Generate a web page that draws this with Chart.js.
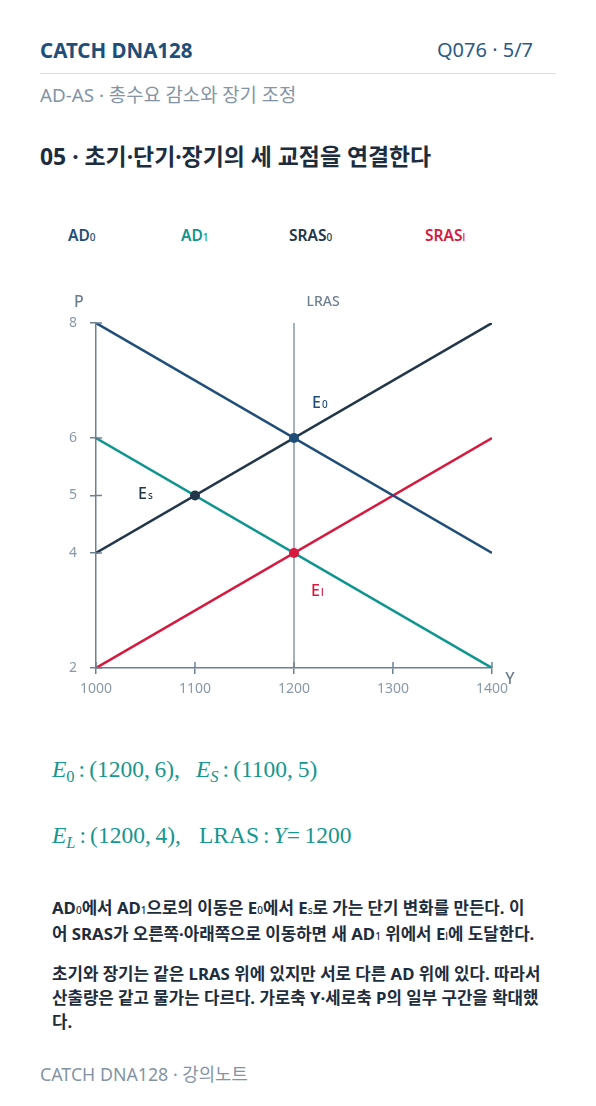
<!DOCTYPE html>
<html>
<head>
<meta charset="utf-8">
<script src="https://cdn.jsdelivr.net/npm/chart.js@4"></script>
<style>
  html,body{margin:0;padding:0;background:#fff;}
  body{width:596px;height:1106px;position:relative;overflow:hidden;font-family:"Noto Sans","Noto Sans CJK KR",sans-serif;}
  .abs{position:absolute;white-space:nowrap;line-height:1;}
  #brand{left:40px;top:40px;font-size:20.5px;font-weight:700;color:#1f4e79;}
  #page{left:437px;top:40px;font-size:20px;color:#2b5a85;}
  #rule{left:40px;top:73px;width:516px;height:1px;background:#d3dfea;}
  #sub{left:40px;top:86px;font-size:18.8px;color:#8494a5;}
  #title{left:40px;top:146px;font-size:22.9px;font-weight:700;color:#1e2d3d;}
  .leg{position:absolute;top:228px;font-size:15.5px;font-weight:600;white-space:nowrap;line-height:1;}
  .leg sub{font-size:10px;font-weight:500;vertical-align:0;}
  #chart{position:absolute;left:0;top:200px;}
  .math{position:absolute;left:52px;font-family:"Liberation Serif","DejaVu Serif",serif;font-size:23.5px;line-height:24px;color:#17968f;white-space:nowrap;}
  .math i{font-style:italic;}
  .math sub{font-size:16.5px;vertical-align:-5px;line-height:0;}
  .math .r{margin:0 4px 0 4px;}
  .math .q{display:inline-block;width:16px;}
  #para{position:absolute;left:52px;top:896px;font-size:16.8px;font-weight:700;color:#1e2d3d;line-height:24px;white-space:nowrap;}
  #para p{margin:0 0 14px 0;}
  #para sub{font-size:10px;font-weight:500;vertical-align:0;}
  #foot{left:40px;top:1066px;font-size:17.8px;color:#8494a5;}
</style>
</head>
<body>
<div id="brand" class="abs">CATCH DNA128</div>
<div id="page" class="abs">Q076 · 5/7</div>
<div id="rule" class="abs"></div>
<div id="sub" class="abs">AD-AS · 총수요 감소와 장기 조정</div>
<div id="title" class="abs">05 · 초기·단기·장기의 세 교점을 연결한다</div>

<div class="leg" style="left:68px;color:#1f4e79;">AD<sub>0</sub></div>
<div class="leg" style="left:181px;color:#0f958f;">AD<sub>1</sub></div>
<div class="leg" style="left:289px;color:#22364a;">SRAS<sub>0</sub></div>
<div class="leg" style="left:425px;color:#d7193f;">SRAS<sub>l</sub></div>

<canvas id="chart" width="596" height="530"></canvas>

<div class="math" style="top:757px;"><i>E</i><sub>0</sub><span class="r">:</span>(1200,&#8201;6),<span class="q"></span><i>E</i><sub><i>S</i></sub><span class="r">:</span>(1100,&#8201;5)</div>
<div class="math" style="top:823px;"><i>E</i><sub><i>L</i></sub><span class="r">:</span>(1200,&#8201;4),<span class="q" style="width:18px"></span>LRAS<span class="r">:</span><i>Y</i>=&#8201;1200</div>

<div id="para">
<p>AD<sub>0</sub>에서 AD<sub>1</sub>으로의 이동은 E<sub>0</sub>에서 E<sub>s</sub>로 가는 단기 변화를 만든다. 이<br>어 SRAS가 오른쪽·아래쪽으로 이동하면 새 AD<sub>1</sub> 위에서 E<sub>l</sub>에 도달한다.</p>
<p>초기와 장기는 같은 LRAS 위에 있지만 서로 다른 AD 위에 있다. 따라서<br>산출량은 같고 물가는 다르다. 가로축 Y·세로축 P의 일부 구간을 확대했<br>다.</p>
</div>

<div id="foot" class="abs">CATCH DNA128 · 강의노트</div>

<script>
// ---- data ----
const xRange = [1000, 1400];
const yRange = [2, 8];
const xTicks = [1000, 1100, 1200, 1300, 1400];
const yTicks = [2, 4, 5, 6, 8];
const lineX = [1000, 1400];
const AD0 = [8, 4];
const AD1 = [6, 2];
const SRAS0 = [4, 8];
const SRAS1 = [2, 6];
const LRAS_X = 1200;
const LRAS_Y = [2, 8];
const eqNames = ['E', 'E', 'E'];
const eqSubs = ['0', 's', 'l'];
const eqX = [1200, 1100, 1200];
const eqY = [6, 5, 4];

// ---- styles ----
const C_AD0 = '#1f4e79', C_AD1 = '#0f958f', C_S0 = '#22364a', C_S1 = '#d7193f';
const AXIS = '#6e7f90', LRASC = '#8797a8', TICKC = '#8a99a9';
const FONT = '"Noto Sans","Noto Sans CJK KR",sans-serif';

const seg = (ys) => lineX.map((x, i) => ({x, y: ys[i]}));
const lineDs = (label, ys, color) => ({
  label, data: seg(ys), borderColor: color, borderWidth: 2.5,
  pointRadius: 0, showLine: true, fill: false, order: 2
});

const eqColors = [C_AD0, C_S0, C_S1];

const annot = {
  id: 'annot',
  afterDraw(chart) {
    const {ctx, chartArea: a, scales: {x, y}} = chart;
    ctx.save();
    // inner halves of tick marks
    ctx.strokeStyle = AXIS; ctx.lineWidth = 1.5;
    xTicks.forEach(v => { const px = x.getPixelForValue(v); ctx.beginPath(); ctx.moveTo(px, a.bottom); ctx.lineTo(px, a.bottom - 6); ctx.stroke(); });
    yTicks.forEach(v => { const py = y.getPixelForValue(v); ctx.beginPath(); ctx.moveTo(a.left, py); ctx.lineTo(a.left + 6, py); ctx.stroke(); });
    // axis titles
    ctx.fillStyle = '#6e7f90';
    ctx.font = '500 16px ' + FONT;
    ctx.textAlign = 'center'; ctx.textBaseline = 'middle';
    ctx.fillText('P', a.left - 17, a.top - 21);
    ctx.fillText('Y', a.right + 18, a.bottom + 11);
    ctx.font = '500 14px ' + FONT;
    ctx.fillText('LRAS', x.getPixelForValue(LRAS_X) + 29, a.top - 21);
    // equilibrium labels
    const offs = [[18, -35], [-57, -1], [17, 38]];
    const cols = [C_AD0, C_S0, C_S1];
    eqX.forEach((vx, i) => {
      const px = x.getPixelForValue(vx) + offs[i][0];
      const py = y.getPixelForValue(eqY[i]) + offs[i][1];
      ctx.fillStyle = cols[i];
      ctx.textAlign = 'left';
      ctx.font = '500 16px ' + FONT;
      ctx.fillText(eqNames[i], px, py);
      const w = ctx.measureText(eqNames[i]).width;
      ctx.font = '500 10px ' + FONT;
      ctx.fillText(eqSubs[i], px + w + 1, py + 2);
    });
    ctx.restore();
  }
};

new Chart(document.getElementById('chart'), {
  type: 'scatter',
  data: {
    datasets: [
      lineDs('AD0', AD0, C_AD0),
      lineDs('AD1', AD1, C_AD1),
      lineDs('SRAS0', SRAS0, C_S0),
      lineDs('SRAS1', SRAS1, C_S1),
      {
        label: 'LRAS', data: LRAS_Y.map(v => ({x: LRAS_X, y: v})),
        borderColor: LRASC, borderWidth: 1.5, pointRadius: 0, showLine: true, order: 3
      },
      {
        label: 'eq', data: eqX.map((v, i) => ({x: v, y: eqY[i]})),
        backgroundColor: eqColors, borderColor: eqColors, pointRadius: 5, pointBorderWidth: 0,
        showLine: false, order: 1
      }
    ]
  },
  options: {
    responsive: false, animation: false, devicePixelRatio: 1,
    layout: {padding: {left: 56, right: 104, top: 123, bottom: 22}},
    plugins: {legend: {display: false}, tooltip: {enabled: false}},
    scales: {
      x: {
        type: 'linear', min: xRange[0], max: xRange[1],
        afterFit: s => { s.height = 40; },
        afterBuildTicks: s => { s.ticks = xTicks.map(v => ({value: v})); },
        grid: {drawOnChartArea: false, drawTicks: true, tickLength: 6, color: AXIS, lineWidth: 1.5},
        border: {display: true, color: AXIS, width: 1.5},
        ticks: {color: TICKC, font: {family: FONT, size: 14}, padding: 7, maxRotation: 0, callback: v => String(v)}
      },
      y: {
        type: 'linear', min: yRange[0], max: yRange[1],
        afterFit: s => { s.width = 40; },
        afterBuildTicks: s => { s.ticks = yTicks.map(v => ({value: v})); },
        grid: {drawOnChartArea: false, drawTicks: true, tickLength: 6, color: AXIS, lineWidth: 1.5},
        border: {display: true, color: AXIS, width: 1.5},
        ticks: {color: TICKC, font: {family: FONT, size: 14}, padding: 13, callback: v => String(v)}
      }
    }
  },
  plugins: [annot]
});
</script>
</body>
</html>
